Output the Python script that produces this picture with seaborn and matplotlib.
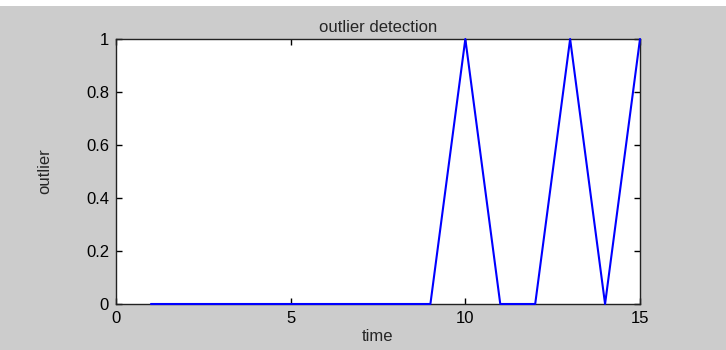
import matplotlib
matplotlib.use("Agg")
import matplotlib.pyplot as plt
import seaborn as sns
import pandas as pd
from matplotlib.patches import Rectangle

sns.set_style("ticks")
plt.rcParams['font.family'] = ['Liberation Sans', 'DejaVu Sans']

time = [1, 2, 3, 4, 5, 6, 7, 8, 9, 10, 11, 12, 13, 14, 15]
outlier = [0, 0, 0, 0, 0, 0, 0, 0, 0, 1, 0, 0, 1, 0, 1]
xticks = [0, 5, 10, 15]
yticks = [0, 0.2, 0.4, 0.6, 0.8, 1]
ytick_labels = ["0", "0.2", "0.4", "0.6", "0.8", "1"]

df = pd.DataFrame({"time": time, "outlier": outlier})

W, H = 726, 350
fig = plt.figure(figsize=(W / 100, H / 100), dpi=100, facecolor="#cccccc")
fig.patches.append(Rectangle((0, (H - 6) / H), 1, 6 / H, transform=fig.transFigure,
                             facecolor="white", edgecolor="none", zorder=0))
ax = fig.add_axes([116 / W, (H - 304) / H, (640 - 116) / W, (304 - 39) / H])
ax.set_facecolor("white")

sns.lineplot(data=df, x="time", y="outlier", ax=ax, color="#0000ff", linewidth=1.5)
for ln in ax.lines:
    ln.set_zorder(5)
    ln.set_clip_on(False)

ax.set_xlim(0, 15)
ax.set_ylim(0, 1)
ax.set_xticks(xticks)
ax.set_xticklabels([str(t) for t in xticks])
ax.set_yticks(yticks)
ax.set_yticklabels(ytick_labels)
ax.tick_params(direction="in", length=4, width=1, top=True, right=True,
               labelsize=12, colors="black", pad=5)
for s in ax.spines.values():
    s.set_visible(True)
    s.set_color("#222222")
    s.set_linewidth(1)

ax.set_title("outlier detection", fontsize=12, pad=5)
ax.set_xlabel("time", fontsize=12, labelpad=2)
ax.set_ylabel("outlier", fontsize=12, labelpad=24,
              family=['Liberation Sans Narrow', 'Liberation Sans', 'DejaVu Sans'])

fig.savefig("out.png", dpi=100, facecolor=fig.get_facecolor())
